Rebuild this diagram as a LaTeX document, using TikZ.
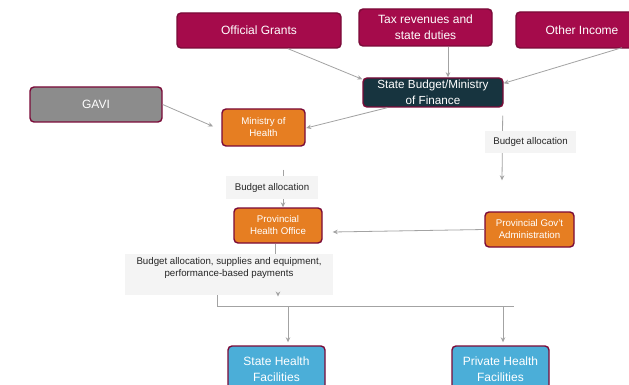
\documentclass[tikz,border=0pt]{standalone}
\usepackage{fontspec}
\setmainfont{Liberation Sans}
\usetikzlibrary{calc,arrows.meta}
\definecolor{maroon}{HTML}{A50B4B}
\definecolor{bord}{HTML}{7A0A38}
\definecolor{orng}{HTML}{E67E22}
\definecolor{blu}{HTML}{4BAED8}
\definecolor{gry}{HTML}{8C8C8C}
\definecolor{teal}{HTML}{17343F}
\definecolor{conncol}{HTML}{A3A3A3}
\definecolor{labfill}{HTML}{F4F4F4}
\definecolor{labtext}{HTML}{262626}
\tikzset{
  box/.style={draw=bord, line width=1.4pt, rounded corners=4pt, text=white, align=center, inner sep=2pt},
  src/.style={box, fill=maroon, font=\fontsize{12}{16}\selectfont},
  org/.style={box, fill=orng, font=\fontsize{9.7}{12}\selectfont},
  fac/.style={box, fill=blu, font=\fontsize{12}{16}\selectfont},
  lab/.style={fill=labfill, text=labtext, align=center, font=\fontsize{9.7}{12}\selectfont, inner sep=4pt},
  conn/.style={draw=conncol, line width=0.8pt, -{Stealth[length=5pt,width=4.5pt]}},
  plain/.style={draw=conncol, line width=0.8pt}
}
\begin{document}
\begin{tikzpicture}[x=1pt,y=-1pt]
\useasboundingbox[fill=white] (0,0) rectangle (629,385);
\clip (0,0) rectangle (629,385);
% nodes
\node[src, minimum width=164pt, minimum height=35pt] (og) at (259,30.5) {Official Grants};
\node[src, minimum width=133pt, minimum height=37pt] (tax) at (425.5,27.5) {Tax revenues and\\state duties};
\node[src, minimum width=132pt, minimum height=36pt] (oi) at (582,30) {Other Income};
\node[box, fill=teal, minimum width=140pt, minimum height=29pt, font=\fontsize{11.7}{16}\selectfont] (sb) at (433,92.5) {State Budget/Ministry\\of Finance};
\node[box, fill=gry, minimum width=132pt, minimum height=35pt, font=\fontsize{12}{16}\selectfont] (gavi) at (96,104.5) {GAVI};
\node[org, minimum width=83pt, minimum height=37pt] (moh) at (263.5,127.5) {Ministry of\\Health};
\node[org, minimum width=88pt, minimum height=35pt] (pho) at (278,225.5) {Provincial\\Health Office};
\node[org, minimum width=89pt, minimum height=35pt] (pga) at (529.5,229.5) {Provincial Gov't\\Administration};
\node[fac, minimum width=97pt, minimum height=46pt] (sh) at (276.5,369) {State Health\\Facilities};
\node[fac, minimum width=97pt, minimum height=46pt] (ph) at (500.5,369) {Private Health\\Facilities};
% connectors
\draw[conn] ($(og.south)+(29,0)$) -- ($(sb.north west)+(0,2)$);
\draw[conn] ($(tax.south)+(22.5,0)$) -- ($(sb.north)+(15,0)$);
\draw[conn] ($(oi.south)+(40,-1)$) -- ($(sb.north east)+(0,6)$);
\draw[conn] ($(sb.south west)+(25,0)$) -- ($(moh.east)+(0.5,0.5)$);
\draw[conn, shorten >=9pt] (gavi.east) -- ($(moh.west)+(0,2.5)$);
\draw[conn] ($(moh.south)+(19.5,23)$) -- ($(pho.north)+(5,0)$);
\node[lab, minimum width=92pt, minimum height=23pt] (ba1) at (272,187.5) {Budget allocation};
\draw[conn] ($(sb.south east)+(-1,8)$) -- ($(pga.north)+(-27.5,-31)$);
\node[lab, minimum width=91pt, minimum height=22pt] (ba2) at (530.5,142) {Budget allocation};
\draw[conn] (pga.west) -- ($(pho.east)+(10,6.5)$);
\draw[plain] ($(pho.south)+(-3,0)$) -- ++(0,12);
\node[lab, minimum width=208pt, anchor=north, inner ysep=3pt] (ba3) at (229,254) {Budget allocation, supplies and equipment,\\performance-based payments\\\strut};
\draw[conn] ($(ba3.south)+(49,-2)$) -- ++(0,3.5);
\coordinate (bl) at ($(ba3.south)+(-12,0)$);
\coordinate (br) at ($(ph.north)+(13.5,-39)$);
\draw[plain] (bl) |- (br);
\draw[conn] (bl |- br) ++(71,0) -- ($(sh.north)+(11.5,-3)$);
\draw[conn] ($(br)+(-11,0)$) -- ($(ph.north)+(2.5,-3)$);
\end{tikzpicture}
\end{document}
